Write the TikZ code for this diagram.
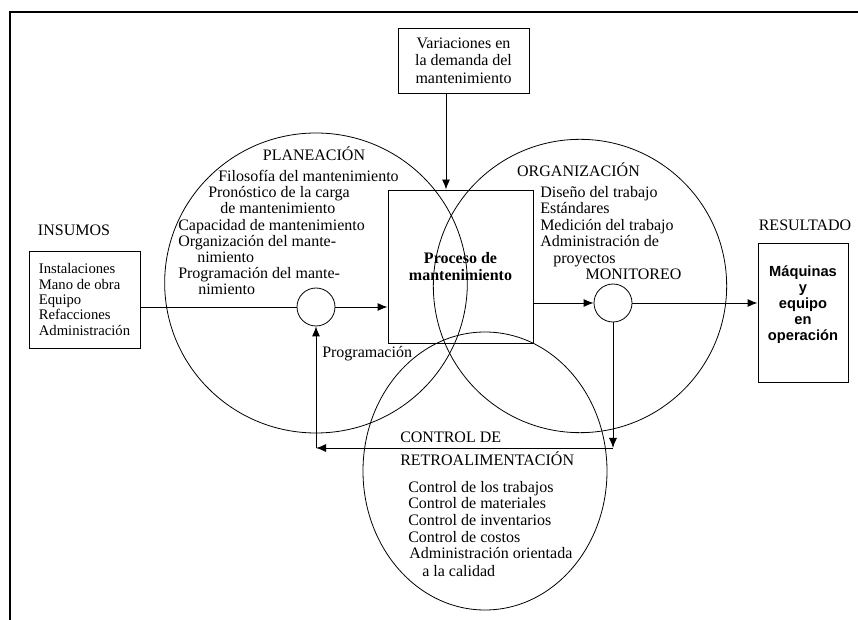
\documentclass[tikz,border=0pt]{standalone}
\usepackage{fontspec}
\setmainfont{Liberation Serif}
\setsansfont{Liberation Sans}
\usetikzlibrary{arrows.meta,positioning}

\begin{document}
\begin{tikzpicture}[x=0.75pt,y=-0.75pt,
    font=\fontsize{12}{13}\selectfont,
    txt/.style={anchor=base west,inner sep=0pt},
    head/.style={anchor=base,inner sep=0pt},
    box/.style={draw,line width=0.7pt,inner sep=0pt},
    smallc/.style={draw,circle,line width=0.6pt,minimum size=28.5pt,inner sep=0pt},
    arr/.style={-{Latex[length=7.5pt,width=6pt]},line width=0.7pt},
    ring/.style={line width=0.6pt}]

    \useasboundingbox (0,0) rectangle (858,620);
    \draw[line width=1.3pt] (10,640) -- (10,12) -- (880,12);

    \draw[ring] (316,283) circle [x radius=113.5pt,y radius=112.5pt];
    \draw[ring] (580,286) circle [radius=110pt];
    \draw[ring] (485,471) circle [x radius=91.5pt,y radius=104.25pt];

    \node[box,minimum width=98.25pt,minimum height=48.75pt,align=center,
        font=\fontsize{12}{13.1}\selectfont] (var) at (463.5,60.5)
        {Variaciones en\\la demanda del\\mantenimiento};
    \node[box,minimum width=108.75pt,minimum height=114.75pt,align=center,
        font=\fontsize{12}{12.75}\selectfont\bfseries] (proc) at (460.5,266.5)
        {Proceso de\\mantenimiento};
    \node[box,minimum width=83.25pt,minimum height=72.75pt,align=left,
        font=\fontsize{11}{11.6}\selectfont] (ins) at (84.5,299.5)
        {Instalaciones\\Mano de obra\\Equipo\\Refacciones\\Administración};
    \node[box,minimum width=67.5pt,minimum height=104.25pt] (maq) at (803,312.5) {};
    \node[align=center,inner sep=0pt,
        font=\fontsize{11}{12}\selectfont\sffamily\bfseries] (maqtxt) at (803,305)
        {Máquinas\\y\\equipo\\en\\operación};

    \node[smallc] (pc) at (316,307) {};
    \node[smallc] (mc) at (613,303) {};

    \node[head] (insumos) at (74,236) {INSUMOS};
    \node[head] (resultado) at (805,231) {RESULTADO};
    \node[head] (planeacion) at (314,161) {PLANEACIÓN};
    \node[head] (organizacion) at (578.5,177) {ORGANIZACIÓN};
    \node[head] (monitoreo) at (633.5,280) {MONITOREO};
    \node[txt] (control) at (400,443) {CONTROL DE};
    \node[txt] (retro) at (400,466) {RETROALIMENTACIÓN};
    \node[txt] (prog) at (322,358) {Programación};

    \foreach \t/\x/\y [count=\i] in {Filosofía del mantenimiento/218/182,
        Pronóstico de la carga/208/198, de mantenimiento/220/214,
        Capacidad de mantenimiento/178/231, Organización del mante-/178/247,
        nimiento/197/263, Programación del mante-/178/279, nimiento/198/295}
        \node[txt] (pl\i) at (\x,\y) {\t};
    \foreach \t/\x/\y [count=\i] in {Diseño del trabajo/540/198,
        Estándares/540/214, Medición del trabajo/540/231,
        Administración de/540/247, proyectos/553/264}
        \node[txt] (or\i) at (\x,\y) {\t};
    \foreach \t/\x/\y [count=\i] in {Control de los trabajos/408/493,
        Control de materiales/408/509, Control de inventarios/408/526,
        Control de costos/408/542, Administración orientada/409/559,
        a la calidad/422/576}
        \node[txt] (co\i) at (\x,\y) {\t};

    \coordinate (vin) at (446,0);
    \coordinate (fbr) at (613,448);
    \coordinate (fbl) at (316,448);

    \draw[arr] (var.south -| vin) -- (proc.north -| vin);
    \draw[line width=0.7pt] (ins.east |- pc) -- (pc.west);
    \draw[arr] (pc.east) -- (pc.east -| proc.west);
    \draw[arr] (proc.east |- mc) -- (mc.west);
    \draw[arr] (mc.east) -- (mc.east -| maq.west);
    \draw[arr] (mc.south) -- (fbr);
    \draw[arr] (fbr) -- (fbl);
    \draw[arr] (fbl) -- (pc.south);
\end{tikzpicture}
\end{document}
